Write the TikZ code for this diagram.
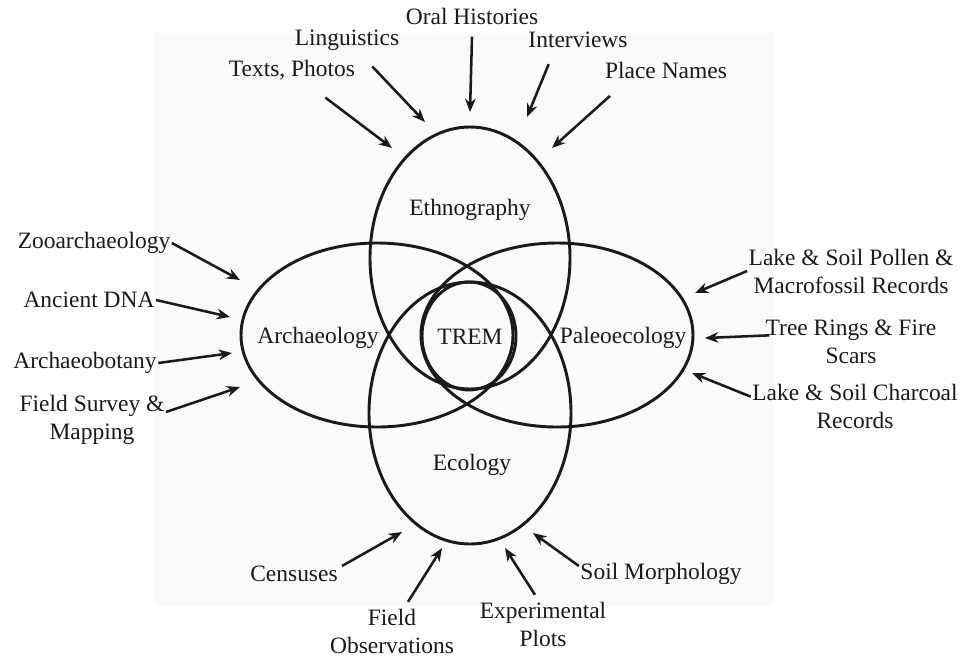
\documentclass[tikz,border=0pt]{standalone}
\usepackage{fontspec}
\setmainfont{Liberation Serif}
\usetikzlibrary{arrows.meta,shapes.geometric}
\definecolor{ink}{HTML}{1A1A1A}
\definecolor{bg}{HTML}{FAFAFA}
\begin{document}
\begin{tikzpicture}[x=0.75pt,y=-0.75pt,
  lbl/.style={inner sep=1pt,text=ink,align=center,font=\fontsize{17.6}{21}\selectfont},
  ring/.style={draw=ink,line width=2.2pt,ellipse,inner sep=0pt},
  arr/.style={draw=ink,line width=1.9pt,-{Stealth[length=10pt,width=8pt]}}]
\useasboundingbox (0,0) rectangle (967,658);
\fill[bg] (155,33) rectangle (773,606);
% circles
\node[ring,minimum width=150pt,minimum height=196.5pt] (ethE) at (470,258) {};
\node[ring,minimum width=151.5pt,minimum height=196.5pt] (ecoE) at (470,413) {};
\node[ring,minimum width=204pt,minimum height=138pt] (arcE) at (377,335) {};
\node[ring,minimum width=204pt,minimum height=138pt] (palE) at (557,335) {};
\node[ring,minimum width=70.5pt,minimum height=81pt] (tremE) at (469,336) {};
% circle labels
\node[lbl] (eth) at (470,210) {Ethnography};
\node[lbl] (eco) at (472,465) {Ecology};
\node[lbl] (arc) at (318,338) {Archaeology};
\node[lbl] (pal) at (623,338) {Paleoecology};
\node[lbl] (trem) at (470,337) {TREM};
% top
\node[lbl] (oral) at (472,16) {Oral Histories};
\node[lbl] (ling) at (347,40) {Linguistics};
\node[lbl] (interv) at (578,40) {Interviews};
\node[lbl] (texts) at (292,70) {Texts, Photos};
\node[lbl] (place) at (666,70) {Place Names};
% left
\node[lbl] (zoo) at (94,243) {Zooarchaeology};
\node[lbl] (dna) at (89,300) {Ancient DNA};
\node[lbl] (bot) at (85,363) {Archaeobotany};
\node[lbl] (field) at (92,420) {Field Survey \&\\Mapping};
% right
\node[lbl] (pollen) at (851,271) {Lake \& Soil Pollen \&\\Macrofossil Records};
\node[lbl] (tree) at (851,342) {Tree Rings \& Fire\\Scars};
\node[lbl] (charc) at (855,406) {Lake \& Soil Charcoal\\Records};
% bottom
\node[lbl] (census) at (294,574) {Censuses};
\node[lbl] (fobs) at (392,631) {Field\\Observations};
\node[lbl] (exper) at (543,624) {Experimental\\Plots};
\node[lbl] (soil) at (661,574) {Soil Morphology};
% arrow tips
\coordinate (tTexts) at (392,148);
\coordinate (tLing) at (425,122);
\coordinate (tOral) at (470,112);
\coordinate (tInterv) at (527,117);
\coordinate (tPlace) at (552,148);
\coordinate (tZoo) at (240,280);
\coordinate (tDna) at (230,317);
\coordinate (tBot) at (232,353);
\coordinate (tField) at (240,387);
\coordinate (tPollen) at (695,293);
\coordinate (tTree) at (705,338);
\coordinate (tCharc) at (692,373);
\coordinate (tCensus) at (402,532);
\coordinate (tFobs) at (442,548);
\coordinate (tExper) at (505,548);
\coordinate (tSoil) at (533,533);
% arrows
\draw[arr] ([xshift=25pt,yshift=-12pt]texts.south) -- (tTexts);
\draw[arr] ([xshift=19pt,yshift=-11pt]ling.south) -- (tLing);
\draw[arr] ([yshift=-8pt]oral.south) -- (tOral);
\draw[arr] ([xshift=-22pt,yshift=-11pt]interv.south) -- (tInterv);
\draw[arr] ([xshift=-42pt,yshift=-12pt]place.south) -- (tPlace);
\draw[arr] (zoo.east) -- (tZoo);
\draw[arr] (dna.east) -- (tDna);
\draw[arr] (bot.east) -- (tBot);
\draw[arr] ([yshift=6pt]field.east) -- (tField);
\draw[arr] (pollen.west) -- (tPollen);
\draw[arr] ([xshift=4pt,yshift=5pt]tree.west) -- (tTree);
\draw[arr] ([yshift=7pt]charc.west) -- (tCharc);
\draw[arr] ([xshift=2pt,yshift=6pt]census.east) -- (tCensus);
\draw[arr] ([xshift=12pt,yshift=4pt]fobs.north) -- (tFobs);
\draw[arr] ([xshift=-6pt,yshift=4pt]exper.north) -- (tExper);
\draw[arr] ([yshift=6pt]soil.west) -- (tSoil);
\end{tikzpicture}
\end{document}
